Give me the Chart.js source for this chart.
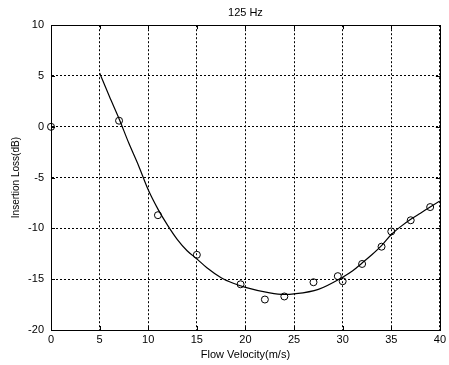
<!DOCTYPE html>
<html>
<head>
<meta charset="utf-8">
<script src="https://cdn.jsdelivr.net/npm/chart.js@4"></script>
<style>
html,body{margin:0;padding:0;background:#fff;}
#wrap{width:449px;height:365px;position:relative;}
</style>
</head>
<body>
<div id="wrap"><canvas id="c"></canvas></div>
<script>
// Fitted curve
const curveX = [5,6,7,8,9,10,11,12,13,14,15,16,17.5,18.75,20,22.5,24,25,27.5,30,31,32,33,34,35,36,37,38,39,40];
const curveY = [5.3,3.0,0.8,-1.6,-3.8,-6.2,-8.1,-9.7,-11.1,-12.2,-13.0,-13.85,-14.85,-15.4,-15.8,-16.35,-16.5,-16.45,-16.0,-14.8,-14.2,-13.4,-12.6,-11.7,-10.6,-9.8,-9.1,-8.5,-7.9,-7.3];
// Measured points
const measX = [0,7,11,15,19.5,22,24,27,29.5,30,32,34,35,37,39];
const measY = [0,0.6,-8.7,-12.6,-15.5,-17.0,-16.7,-15.3,-14.7,-15.2,-13.5,-11.8,-10.3,-9.2,-7.9];
// Axis ticks
const xTicks = [0,5,10,15,20,25,30,35,40];
const yTicks = [-20,-15,-10,-5,0,5,10];

const titleText = '125 Hz';
const xTitle = 'Flow Velocity(m/s)';
const yTitle = 'Insertion Loss(dB)';

const FONT = "'Liberation Sans', Arial, sans-serif";

const frame = {
  id: 'frame',
  afterDatasetsDraw(chart) {
    const {ctx, chartArea: a, scales} = chart;
    ctx.save();
    ctx.strokeStyle = '#000';
    ctx.lineWidth = 1;
    ctx.strokeRect(Math.round(a.left) + 0.5, Math.round(a.top) + 0.5, Math.round(a.right - a.left), Math.round(a.bottom - a.top));
    // inward ticks (MATLAB style)
    const L = 4;
    ctx.beginPath();
    xTicks.forEach(v => {
      const px = Math.round(scales.x.getPixelForValue(v)) + 0.5;
      ctx.moveTo(px, a.bottom); ctx.lineTo(px, a.bottom - L);
      ctx.moveTo(px, a.top); ctx.lineTo(px, a.top + L);
    });
    yTicks.forEach(v => {
      const py = Math.round(scales.y.getPixelForValue(v)) + 0.5;
      ctx.moveTo(a.left, py); ctx.lineTo(a.left + L, py);
      ctx.moveTo(a.right, py); ctx.lineTo(a.right - L, py);
    });
    ctx.stroke();
    ctx.restore();
  }
};

new Chart(document.getElementById('c'), {
  type: 'scatter',
  data: {
    datasets: [
      {
        label: 'fit',
        data: curveX.map((x, i) => ({x, y: curveY[i]})),
        showLine: true,
        borderColor: '#000',
        borderWidth: 1.2,
        pointRadius: 0,
        cubicInterpolationMode: 'monotone',
        fill: false
      },
      {
        label: 'measured',
        data: measX.map((x, i) => ({x, y: measY[i]})),
        showLine: false,
        pointStyle: 'circle',
        pointRadius: 3.5,
        pointBorderWidth: 1,
        pointBorderColor: '#000',
        pointBackgroundColor: 'rgba(255,255,255,0)',
        clip: false
      }
    ]
  },
  options: {
    responsive: true,
    maintainAspectRatio: false,
    animation: false,
    layout: {padding: {left: 0, right: 9, top: 0, bottom: 0}},
    plugins: {
      legend: {display: false},
      tooltip: {enabled: false},
      title: {
        display: true,
        fullSize: false,
        text: titleText,
        color: '#000',
        font: {family: FONT, size: 11, weight: 'normal'},
        padding: {top: 6, bottom: 6}
      }
    },
    scales: {
      x: {
        type: 'linear',
        min: 0, max: 40,
        afterBuildTicks: s => { s.ticks = xTicks.map(v => ({value: v})); },
        afterFit: s => { s.height = 35; },
        ticks: {color: '#000', font: {family: FONT, size: 11}, padding: 3, maxRotation: 0},
        grid: {color: '#000', lineWidth: 1, drawTicks: false},
        border: {display: true, color: '#000', width: 1, dash: [2, 2]},
        title: {display: true, text: xTitle, color: '#000', font: {family: FONT, size: 11}, padding: {top: 0, bottom: 3}}
      },
      y: {
        type: 'linear',
        min: -20, max: 10,
        afterBuildTicks: s => { s.ticks = yTicks.map(v => ({value: v})); },
        afterFit: s => { s.width = 51; },
        ticks: {color: '#000', font: {family: FONT, size: 11}, padding: 7},
        grid: {color: '#000', lineWidth: 1, drawTicks: false},
        border: {display: true, color: '#000', width: 1, dash: [2, 2]},
        title: {display: true, text: yTitle, color: '#000', font: {family: FONT, size: 10}, padding: {top: 10, bottom: 0}}
      }
    }
  },
  plugins: [frame]
});
</script>
</body>
</html>
